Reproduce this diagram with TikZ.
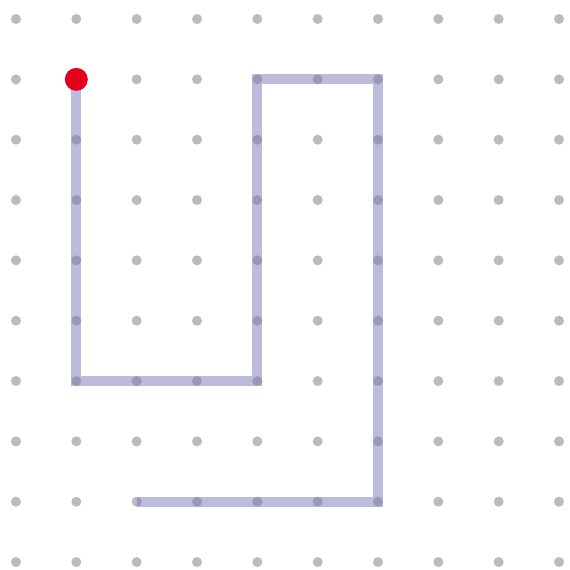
\documentclass[tikz,border=0pt]{standalone}
\usepackage{tikz}
\usetikzlibrary{positioning}

\definecolor{gridgray}{HTML}{BBBBBB}
\definecolor{pathblue}{HTML}{7B77B9}
\definecolor{startred}{HTML}{E2001A}

\begin{document}
\begin{tikzpicture}[
      x=1cm,y=-1cm,
      griddot/.style={circle,fill=gridgray,inner sep=0pt,minimum size=0.166cm},
      route/.style={draw=pathblue,opacity=0.5,line width=4.7pt,line join=miter},
      startdot/.style={circle,fill=startred,inner sep=0pt,minimum size=0.38cm}]
      \useasboundingbox (-0.265,-0.315) rectangle (9.182,9.116);
      \foreach \i in {0,...,9}
        \foreach \j in {0,...,9}
          \node[griddot] (g-\i-\j) at (\i,\j) {};
      \coordinate (p1) at (1,1);
      \coordinate (p2) at (1,6);
      \coordinate (p3) at (4,6);
      \coordinate (p4) at (4,1);
      \coordinate (p5) at (6,1);
      \coordinate (p6) at (6,8);
      \coordinate (p7) at (2,8);
      \draw[route] (p1)--(p2)--(p3)--(p4)--(p5)--(p6)--(p7);
      \node[startdot] (start) at (p1) {};
    \end{tikzpicture}
\end{document}
